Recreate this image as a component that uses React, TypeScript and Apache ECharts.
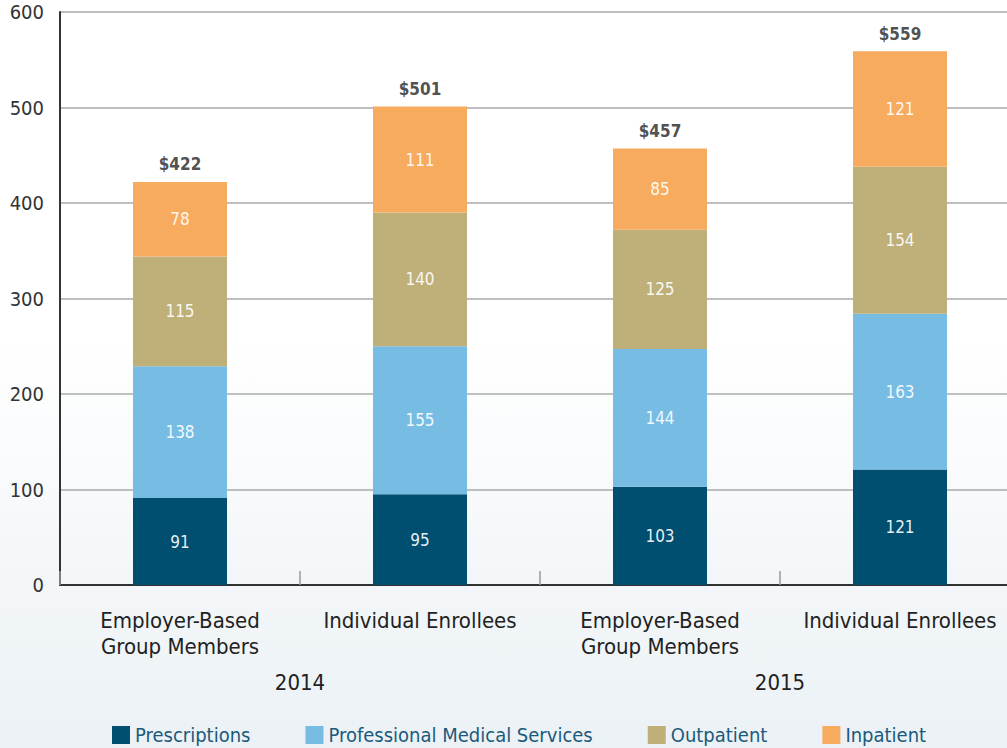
import React, { useEffect, useRef } from "react";
import * as echarts from "echarts";

const categories = ["Employer-Based\nGroup Members", "Individual Enrollees", "Employer-Based\nGroup Members", "Individual Enrollees"];
const years = ["2014", "2015"];
const prescriptions = [91, 95, 103, 121];
const professional = [138, 155, 144, 163];
const outpatient = [115, 140, 125, 154];
const inpatient = [78, 111, 85, 121];
const totals = [422, 501, 457, 559];
const seriesNames = ["Prescriptions", "Professional Medical Services", "Outpatient", "Inpatient"];
const colors = ["#004f71", "#77bde3", "#bfb07a", "#f7ab5e"];
const yTicks = [0, 600, 100];

const FONT = "'Liberation Sans Narrow', 'DejaVu Sans Condensed', 'Roboto', sans-serif";

export default function App() {
  const ref = useRef<HTMLDivElement>(null);
  useEffect(() => {
    if (!ref.current) return;
    const chart = echarts.init(ref.current, null, { renderer: "svg" });
    const valueSets = [prescriptions, professional, outpatient, inpatient];
    const barSeries = seriesNames.map((name, i) => ({
      name,
      type: "bar",
      stack: "total",
      barWidth: 94,
      itemStyle: { color: colors[i] },
      label: {
        show: true,
        position: "inside",
        color: "rgba(255,255,255,0.92)",
        fontSize: 17,
        fontFamily: FONT,
      },
      data: valueSets[i],
    }));
    chart.setOption({
      animation: false,
      backgroundColor: new echarts.graphic.LinearGradient(0, 0, 0, 1, [
        { offset: 0, color: "#ffffff" },
        { offset: 0.45, color: "#ffffff" },
        { offset: 1, color: "#ebf1f5" },
      ]),
      textStyle: { fontFamily: FONT },
      grid: { left: 60, top: 12, width: 960, height: 573, containLabel: false },
      legend: {
        data: seriesNames,
        top: 725,
        left: 112,
        padding: 0,
        itemWidth: 18,
        itemHeight: 18,
        itemGap: 55,
        icon: "rect",
        textStyle: { fontSize: 20, lineHeight: 20, color: "#1b5a7c", fontFamily: FONT },
      },
      xAxis: [
        {
          type: "category",
          data: categories,
          position: "bottom",
          axisLine: { show: true, lineStyle: { color: "#333", width: 2 } },
          axisTick: { show: true, inside: true, length: 14, lineStyle: { color: "#999", width: 1.5 } },
          axisLabel: { interval: 0, fontSize: 22, lineHeight: 26, color: "#222", margin: 22, fontFamily: FONT },
        },
        {
          type: "category",
          data: years,
          position: "bottom",
          offset: 0,
          axisLine: { show: false },
          axisTick: { show: false },
          axisLabel: { interval: 0, fontSize: 22, color: "#222", margin: 86, fontWeight: 500, fontFamily: FONT },
        },
      ],
      yAxis: {
        type: "value",
        min: yTicks[0],
        max: yTicks[1],
        interval: yTicks[2],
        axisLine: { show: true, lineStyle: { color: "#333", width: 2 } },
        axisTick: { show: false },
        splitLine: { show: true, lineStyle: { color: "#aaa", width: 1.5 } },
        axisLabel: { fontSize: 20, color: "#333", margin: 16, fontFamily: FONT },
      },
      series: [
        ...barSeries,
        {
          name: "Total",
          type: "scatter",
          symbolSize: 0,
          data: totals,
          label: {
            show: true,
            position: "top",
            distance: 9,
            formatter: (p: any) => "$" + p.value,
            fontSize: 17,
            fontWeight: "bold",
            color: "#222",
            fontFamily: FONT,
          },
          z: 5,
        },
      ],
    });
    return () => chart.dispose();
  }, []);
  return (
    <div style={{ position: "absolute", left: 0, top: 0, width: 1007, height: 748, overflow: "hidden" }}>
      <div ref={ref} style={{ width: 1020, height: 748 }} />
    </div>
  );
}
